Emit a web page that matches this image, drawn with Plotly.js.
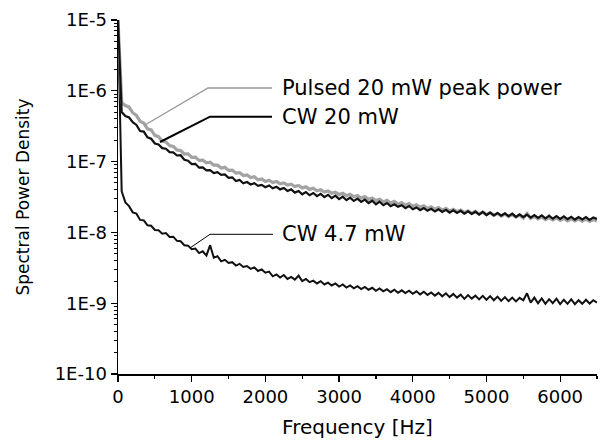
<!DOCTYPE html>
<html>
<head>
<meta charset="utf-8">
<script src="https://cdn.plot.ly/plotly-3.0.1.min.js"></script>
<style>
html,body{margin:0;padding:0;background:#fff;}
#chart{width:601px;height:447px;}
</style>
</head>
<body>
<div id="chart"></div>
<script>
// Frequency bins [Hz]
const frequencyHz = [
  0,50,100,150,200,250,300,350,400,450,500,550,600,650,700,750,800,850,900,950,
  1000,1050,1100,1150,1200,1250,1300,1350,1400,1450,1500,1550,1600,1650,1700,1750,1800,1850,1900,1950,
  2000,2050,2100,2150,2200,2250,2300,2350,2400,2450,2500,2550,2600,2650,2700,2750,2800,2850,2900,2950,
  3000,3050,3100,3150,3200,3250,3300,3350,3400,3450,3500,3550,3600,3650,3700,3750,3800,3850,3900,3950,
  4000,4050,4100,4150,4200,4250,4300,4350,4400,4450,4500,4550,4600,4650,4700,4750,4800,4850,4900,4950,
  5000,5050,5100,5150,5200,5250,5300,5350,5400,5450,5500,5550,5600,5650,5700,5750,5800,5850,5900,5950,
  6000,6050,6100,6150,6200,6250,6300,6350,6400,6450,6500
];

// Pulsed 20 mW peak power
const pulsed20 = [
  1e-5,6.8e-7,6.2e-7,5.9e-7,4.9e-7,4.5e-7,3.7e-7,3.5e-7,2.9e-7,2.8e-7,2.35e-7,2.25e-7,1.95e-7,1.9e-7,1.68e-7,1.64e-7,1.46e-7,1.43e-7,1.28e-7,1.29e-7,
  1.15e-7,1.16e-7,1.04e-7,1.05e-7,9.6e-8,9.8e-8,8.9e-8,8.9e-8,8.1e-8,8.3e-8,7.5e-8,7.6e-8,6.9e-8,7.0e-8,6.35e-8,6.5e-8,5.95e-8,6.1e-8,5.55e-8,5.7e-8,
  5.25e-8,5.45e-8,5.05e-8,5.25e-8,4.85e-8,5.0e-8,4.65e-8,4.8e-8,4.45e-8,4.6e-8,4.25e-8,4.4e-8,4.05e-8,4.2e-8,3.88e-8,4.0e-8,3.72e-8,3.85e-8,3.58e-8,3.7e-8,
  3.42e-8,3.58e-8,3.3e-8,3.45e-8,3.18e-8,3.32e-8,3.05e-8,3.2e-8,2.92e-8,3.06e-8,2.82e-8,2.94e-8,2.7e-8,2.84e-8,2.6e-8,2.74e-8,2.5e-8,2.64e-8,2.42e-8,2.55e-8,
  2.34e-8,2.46e-8,2.26e-8,2.38e-8,2.18e-8,2.3e-8,2.12e-8,2.24e-8,2.06e-8,2.18e-8,2.0e-8,2.12e-8,1.96e-8,2.06e-8,1.9e-8,2.02e-8,1.86e-8,1.98e-8,1.82e-8,1.94e-8,
  1.78e-8,1.9e-8,1.74e-8,1.86e-8,1.7e-8,1.82e-8,1.67e-8,1.78e-8,1.64e-8,1.75e-8,1.6e-8,1.85e-8,1.58e-8,1.68e-8,1.55e-8,1.65e-8,1.52e-8,1.62e-8,1.5e-8,1.6e-8,
  1.48e-8,1.58e-8,1.46e-8,1.56e-8,1.45e-8,1.55e-8,1.44e-8,1.54e-8,1.43e-8,1.52e-8,1.45e-8
];

// CW 20 mW
const cw20 = [
  1e-5,5.0e-7,4.4e-7,4.2e-7,3.6e-7,3.3e-7,2.7e-7,2.65e-7,2.2e-7,2.1e-7,1.8e-7,1.75e-7,1.55e-7,1.52e-7,1.36e-7,1.35e-7,1.22e-7,1.23e-7,1.06e-7,1.03e-7,
  9.2e-8,9.3e-8,8.2e-8,8.3e-8,7.5e-8,7.6e-8,6.9e-8,7.1e-8,6.5e-8,6.6e-8,5.9e-8,6.0e-8,5.3e-8,5.5e-8,4.95e-8,5.15e-8,4.75e-8,4.95e-8,4.55e-8,4.7e-8,
  4.35e-8,4.6e-8,4.2e-8,4.4e-8,4.05e-8,4.25e-8,3.85e-8,4.05e-8,3.65e-8,3.85e-8,3.45e-8,3.7e-8,3.35e-8,3.6e-8,3.25e-8,3.5e-8,3.15e-8,3.4e-8,3.05e-8,3.3e-8,
  2.95e-8,3.2e-8,2.85e-8,3.1e-8,2.78e-8,3.0e-8,2.7e-8,2.9e-8,2.6e-8,2.8e-8,2.5e-8,2.72e-8,2.42e-8,2.6e-8,2.35e-8,2.5e-8,2.3e-8,2.42e-8,2.2e-8,2.36e-8,
  2.12e-8,2.25e-8,2.06e-8,2.2e-8,2.02e-8,2.15e-8,1.97e-8,2.12e-8,1.95e-8,2.08e-8,1.9e-8,2.05e-8,1.88e-8,2.02e-8,1.84e-8,1.98e-8,1.82e-8,1.96e-8,1.78e-8,1.95e-8,
  1.76e-8,1.9e-8,1.74e-8,1.88e-8,1.72e-8,1.86e-8,1.7e-8,1.84e-8,1.66e-8,1.8e-8,1.64e-8,1.78e-8,1.62e-8,1.76e-8,1.6e-8,1.74e-8,1.58e-8,1.72e-8,1.56e-8,1.7e-8,
  1.55e-8,1.68e-8,1.54e-8,1.66e-8,1.52e-8,1.65e-8,1.52e-8,1.64e-8,1.5e-8,1.63e-8,1.55e-8
];

// CW 4.7 mW
const cw47 = [
  1e-5,3.8e-8,2.65e-8,2.35e-8,1.92e-8,1.84e-8,1.5e-8,1.48e-8,1.26e-8,1.24e-8,1.08e-8,1.07e-8,9.6e-9,9.8e-9,8.6e-9,8.7e-9,7.6e-9,7.5e-9,6.6e-9,6.5e-9,
  5.8e-9,5.9e-9,5.1e-9,5.4e-9,4.7e-9,6.6e-9,4.4e-9,4.6e-9,3.9e-9,4.1e-9,3.7e-9,3.8e-9,3.4e-9,3.6e-9,3.25e-9,3.35e-9,3.05e-9,3.2e-9,2.85e-9,3.0e-9,
  2.7e-9,2.8e-9,2.4e-9,2.55e-9,2.3e-9,2.5e-9,2.2e-9,2.35e-9,2.15e-9,2.45e-9,2.05e-9,2.2e-9,1.98e-9,2.08e-9,1.9e-9,2.05e-9,1.84e-9,1.95e-9,1.78e-9,1.9e-9,
  1.72e-9,1.84e-9,1.66e-9,1.78e-9,1.62e-9,1.74e-9,1.58e-9,1.7e-9,1.55e-9,1.65e-9,1.5e-9,1.62e-9,1.47e-9,1.58e-9,1.43e-9,1.55e-9,1.4e-9,1.52e-9,1.39e-9,1.5e-9,
  1.36e-9,1.47e-9,1.33e-9,1.45e-9,1.31e-9,1.42e-9,1.28e-9,1.4e-9,1.25e-9,1.38e-9,1.22e-9,1.35e-9,1.2e-9,1.32e-9,1.15e-9,1.3e-9,1.16e-9,1.28e-9,1.13e-9,1.27e-9,
  1.12e-9,1.26e-9,1.1e-9,1.24e-9,1.08e-9,1.22e-9,1.07e-9,1.2e-9,1.06e-9,1.19e-9,1.1e-9,1.38e-9,1.02e-9,1.2e-9,1.0e-9,1.17e-9,0.98e-9,1.14e-9,1.0e-9,1.16e-9,
  0.97e-9,1.12e-9,0.98e-9,1.13e-9,0.97e-9,1.1e-9,0.98e-9,1.12e-9,0.99e-9,1.1e-9,1.02e-9
];

const xTickVals = [0,1000,2000,3000,4000,5000,6000];
const yTickVals = [1e-10,1e-9,1e-8,1e-7,1e-6,1e-5];
const yTickText = ['1E-10','1E-9','1E-8','1E-7','1E-6','1E-5'];
const seriesLabels = ['Pulsed 20 mW peak power','CW 20 mW','CW 4.7 mW'];

// minor tick positions for the log axis (2..9 in each decade)
const yMinor = [];
for (let e = -10; e < -5; e++) for (let m = 2; m <= 9; m++) yMinor.push(m * Math.pow(10, e));

const FONT = 'DejaVu Sans, Liberation Sans, Arial, sans-serif';

const traces = [
  {x: frequencyHz, y: cw47, mode: 'lines', line: {color: '#111', width: 2.0}, name: seriesLabels[2]},
  {x: frequencyHz, y: pulsed20, mode: 'lines', line: {color: '#a3a3a3', width: 3.2}, name: seriesLabels[0]},
  {x: frequencyHz, y: cw20, mode: 'lines', line: {color: '#111', width: 2.2}, name: seriesLabels[1]}
];

const layout = {
  width: 601, height: 447,
  margin: {l: 118, r: 4, t: 20, b: 73},
  paper_bgcolor: '#fff', plot_bgcolor: '#fff',
  showlegend: false,
  font: {family: FONT, color: '#000'},
  xaxis: {
    range: [0, 6500], showgrid: false, zeroline: false,
    showline: true, linecolor: '#000', linewidth: 1.5,
    tickmode: 'array', tickvals: xTickVals,
    ticks: 'outside', ticklen: 6, tickwidth: 1.3, tickcolor: '#000',
    tickfont: {family: FONT, size: 18, color: '#000'},
    minor: {dtick: 500, tick0: 0, ticks: 'outside', ticklen: 3, tickwidth: 1.2, tickcolor: '#000', showgrid: false},
    title: {text: 'Frequency [Hz]', font: {family: FONT, size: 20, color: '#000'}, standoff: 14}
  },
  yaxis: {
    type: 'log', range: [-10, -5], showgrid: false, zeroline: false,
    showline: true, linecolor: '#000', linewidth: 1.5,
    tickmode: 'array', tickvals: yTickVals, ticktext: yTickText,
    ticks: 'outside', ticklen: 6, tickwidth: 1.3, tickcolor: '#000',
    tickfont: {family: FONT, size: 18, color: '#000'},
    minor: {tickmode: 'array', tickvals: yMinor, ticks: 'outside', ticklen: 3, tickwidth: 1, tickcolor: '#000', showgrid: false},
    title: {text: 'Spectral Power Density', font: {family: FONT, size: 17, color: '#000'}, standoff: 20}
  },
  shapes: [
    {type: 'path', xref: 'paper', yref: 'paper', path: 'M0.0564,0.7034 L0.1879,0.8079 L0.3215,0.8079', line: {color: '#999', width: 1.4}},
    {type: 'path', xref: 'paper', yref: 'paper', path: 'M0.0877,0.6554 L0.1921,0.7268 L0.3215,0.7268', line: {color: '#000', width: 2}},
    {type: 'path', xref: 'paper', yref: 'paper', path: 'M0.1503,0.3559 L0.1921,0.3946 L0.3236,0.3946', line: {color: '#000', width: 1}}
  ],
  annotations: [
    {xref: 'paper', yref: 'paper', x: 0.338, y: 0.808, xanchor: 'left', yanchor: 'middle', text: seriesLabels[0], showarrow: false, font: {family: FONT, size: 21, color: '#000'}},
    {xref: 'paper', yref: 'paper', x: 0.338, y: 0.727, xanchor: 'left', yanchor: 'middle', text: seriesLabels[1], showarrow: false, font: {family: FONT, size: 21, color: '#000'}},
    {xref: 'paper', yref: 'paper', x: 0.338, y: 0.395, xanchor: 'left', yanchor: 'middle', text: seriesLabels[2], showarrow: false, font: {family: FONT, size: 21, color: '#000'}}
  ]
};

Plotly.newPlot('chart', traces, layout, {displayModeBar: false, staticPlot: true});
</script>
</body>
</html>
